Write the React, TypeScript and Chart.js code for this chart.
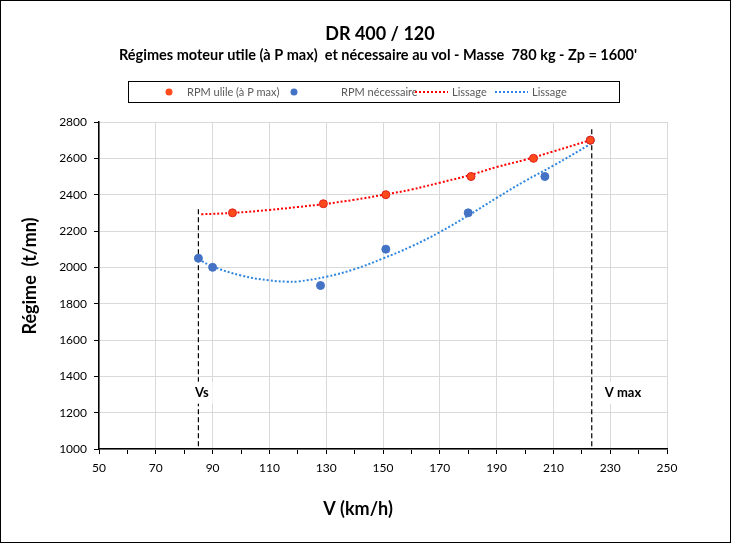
import React, { useEffect, useRef } from 'react';
import { Chart, registerables } from 'chart.js';

Chart.register(...registerables);

// measured points (km/h, t/mn)
const utileSpeeds = [97, 129, 151, 181, 203, 223];
const utileRpm = [2300, 2350, 2400, 2500, 2600, 2700];
const requisSpeeds = [85, 90, 128, 151, 180, 207, 223];
const requisRpm = [2050, 2000, 1900, 2100, 2300, 2500, 2700];

// trend lines
const utileTrendSpeeds = [86, 97.5, 110, 120, 130, 140, 150, 160, 170, 180, 190, 200, 210, 223];
const utileTrendRpm = [2292, 2300, 2316, 2332, 2350, 2372, 2399, 2428, 2466, 2505, 2552, 2592, 2638, 2700];
const requisTrendSpeeds = [85, 90, 100, 110, 116, 120, 130, 140, 150, 160, 170, 180, 190, 200, 210, 223];
const requisTrendRpm = [2045, 2005, 1955, 1928, 1921, 1922, 1948, 1990, 2049, 2115, 2194, 2285, 2382, 2475, 2560, 2678];

// speed limits
const vsSpeed = 85;
const vsTop = 2320;
const vmaxSpeed = 223.5;
const vmaxTop = 2760;

const FONT = 'Lato, "Open Sans", sans-serif';

const pts = (xs: number[], ys: number[]) => xs.map((x, i) => ({ x, y: ys[i] }));

const decorPlugin = {
    id: 'decor',
    afterDraw(chart: any) {
        const { ctx, scales } = chart;
        const xs = scales.x;
        const ys = scales.y;
        ctx.save();

        // titles
        ctx.fillStyle = '#000';
        ctx.textAlign = 'center';
        ctx.textBaseline = 'middle';
        ctx.font = `bold 18px ${FONT}`;
        ctx.fillText('DR 400 / 120', 379, 33);
        ctx.font = `bold 14.5px ${FONT}`;
        ctx.fillText("Régimes moteur utile (à P max)  et nécessaire au vol - Masse  780 kg - Zp = 1600'", 377, 54);

        // legend
        ctx.strokeStyle = '#000';
        ctx.lineWidth = 1;
        ctx.strokeRect(127.5, 80.5, 491, 21);
        ctx.font = `11px ${FONT}`;
        ctx.textAlign = 'left';
        const ly = 91;
        ctx.beginPath();
        ctx.arc(168, ly, 3.5, 0, Math.PI * 2);
        ctx.fillStyle = '#ff4a1c';
        ctx.fill();
        ctx.beginPath();
        ctx.arc(293, ly, 3.5, 0, Math.PI * 2);
        ctx.fillStyle = '#4472c4';
        ctx.fill();
        ctx.fillStyle = '#595959';
        ctx.fillText(chart.data.datasets[0].label, 186, ly);
        ctx.fillText(chart.data.datasets[1].label, 340, ly);
        ctx.fillText(chart.data.datasets[2].label, 451, ly);
        ctx.fillText(chart.data.datasets[3].label, 531, ly);
        ctx.lineWidth = 2;
        ctx.setLineDash([2, 2]);
        ctx.strokeStyle = '#ff0000';
        ctx.beginPath();
        ctx.moveTo(414, ly);
        ctx.lineTo(447, ly);
        ctx.stroke();
        ctx.strokeStyle = '#2e86de';
        ctx.beginPath();
        ctx.moveTo(494, ly);
        ctx.lineTo(527, ly);
        ctx.stroke();
        ctx.setLineDash([]);

        // axis titles
        ctx.fillStyle = '#000';
        ctx.font = `bold 18px ${FONT}`;
        ctx.textAlign = 'center';
        ctx.fillText('V (km/h)', 357, 508);
        ctx.save();
        ctx.translate(29, 275);
        ctx.rotate(-Math.PI / 2);
        ctx.fillText('Régime  (t/mn)', 0, 0);
        ctx.restore();

        // speed labels with white background
        ctx.font = `bold 13px ${FONT}`;
        const labels = [
            { text: 'Vs', x: xs.getPixelForValue(86.2), y: ys.getPixelForValue(1310) },
            { text: 'V max', x: xs.getPixelForValue(234.5), y: ys.getPixelForValue(1310) },
        ];
        labels.forEach((l) => {
            const w = ctx.measureText(l.text).width + 8;
            ctx.fillStyle = '#fff';
            ctx.fillRect(l.x - w / 2, l.y - 11, w, 22);
            ctx.fillStyle = '#000';
            ctx.fillText(l.text, l.x, l.y);
        });
        ctx.restore();
    },
};

export default function App() {
    const chartRef = useRef<HTMLCanvasElement>(null);
    const chartInstance = useRef<Chart | null>(null);

    useEffect(() => {
        document.body.style.margin = '0';
        if (!chartRef.current) return;
        if (chartInstance.current) chartInstance.current.destroy();
        const ctx = chartRef.current.getContext('2d');
        if (!ctx) return;

        chartInstance.current = new Chart(ctx, {
            type: 'scatter',
            data: {
                datasets: [
                    {
                        label: 'RPM ulile (à P max)',
                        data: pts(utileSpeeds, utileRpm),
                        backgroundColor: '#ff4a1c',
                        borderColor: '#e0201a',
                        borderWidth: 1,
                        pointRadius: 4,
                        order: 1,
                    },
                    {
                        label: 'RPM nécessaire',
                        data: pts(requisSpeeds, requisRpm),
                        backgroundColor: '#4472c4',
                        borderColor: '#4472c4',
                        borderWidth: 1,
                        pointRadius: 4,
                        order: 1,
                    },
                    {
                        type: 'line',
                        label: 'Lissage',
                        data: pts(utileTrendSpeeds, utileTrendRpm),
                        borderColor: '#ff0000',
                        borderWidth: 2,
                        borderDash: [2, 2],
                        pointRadius: 0,
                        tension: 0.4,
                        order: 2,
                    },
                    {
                        type: 'line',
                        label: 'Lissage',
                        data: pts(requisTrendSpeeds, requisTrendRpm),
                        borderColor: '#2e86de',
                        borderWidth: 2,
                        borderDash: [2, 2],
                        pointRadius: 0,
                        tension: 0.4,
                        order: 2,
                    },
                    {
                        type: 'line',
                        label: 'Vs',
                        data: [{ x: vsSpeed, y: vsTop }, { x: vsSpeed, y: 1000 }],
                        borderColor: '#000',
                        borderWidth: 1.2,
                        borderDash: [5, 3],
                        pointRadius: 0,
                        order: 3,
                    },
                    {
                        type: 'line',
                        label: 'V max',
                        data: [{ x: vmaxSpeed, y: vmaxTop }, { x: vmaxSpeed, y: 1000 }],
                        borderColor: '#000',
                        borderWidth: 1.2,
                        borderDash: [5, 3],
                        pointRadius: 0,
                        order: 3,
                    },
                ],
            },
            options: {
                responsive: true,
                maintainAspectRatio: false,
                animation: false,
                layout: { padding: { top: 121, right: 63, left: 0, bottom: 0 } },
                plugins: {
                    legend: { display: false },
                    tooltip: { enabled: false },
                    title: { display: false },
                },
                scales: {
                    x: {
                        type: 'linear',
                        min: 50,
                        max: 250,
                        afterFit: (scale: any) => { scale.height = 93; },
                        ticks: {
                            stepSize: 10,
                            autoSkip: false,
                            maxRotation: 0,
                            padding: 7,
                            color: '#000',
                            font: { family: FONT, size: 12 },
                            callback: (v: any) => (Number(v) % 20 === 10 ? String(v) : ''),
                        },
                        grid: {
                            color: (c: any) => (c.tick && c.tick.value % 20 === 10 ? '#d9d9d9' : 'rgba(0,0,0,0)'),
                            tickColor: '#000',
                            tickLength: 5,
                            lineWidth: 1,
                        },
                        border: { color: '#000', width: 1.5 },
                    },
                    y: {
                        min: 1000,
                        max: 2800,
                        afterFit: (scale: any) => { scale.width = 98; },
                        ticks: {
                            stepSize: 200,
                            padding: 7,
                            color: '#000',
                            font: { family: FONT, size: 12 },
                            callback: (v: any) => String(v),
                        },
                        grid: {
                            color: '#d9d9d9',
                            tickColor: '#000',
                            tickLength: 5,
                            lineWidth: 1,
                        },
                        border: { color: '#000', width: 1.5 },
                    },
                },
            } as any,
            plugins: [decorPlugin],
        });

        return () => {
            if (chartInstance.current) {
                chartInstance.current.destroy();
                chartInstance.current = null;
            }
        };
    }, []);

    return (
        <div style={{ width: 731, height: 543, position: 'relative', boxSizing: 'border-box', border: '1px solid #000', background: '#fff' }}>
            <canvas ref={chartRef}></canvas>
        </div>
    );
}
